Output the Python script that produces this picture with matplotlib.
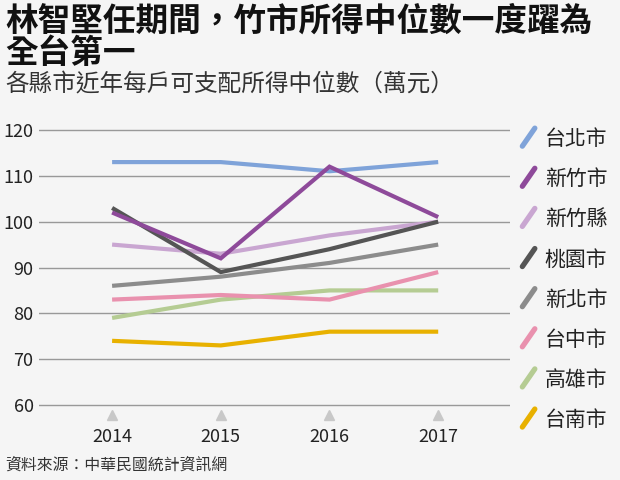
import matplotlib
matplotlib.use("Agg")
import matplotlib.pyplot as plt
from matplotlib.lines import Line2D
from matplotlib.legend_handler import HandlerBase

plt.rcParams['font.family'] = ['Noto Sans CJK TC', 'DejaVu Sans']

# data (萬元)
years = [2014, 2015, 2016, 2017]
cities = ["台北市", "新竹市", "新竹縣", "桃園市", "新北市", "台中市", "高雄市", "台南市"]
taipei = [113, 113, 111, 113]
hsinchu_city = [102, 92, 112, 101]
hsinchu_county = [95, 93, 97, 100]
taoyuan = [103, 89, 94, 100]
new_taipei = [86, 88, 91, 95]
taichung = [83, 84, 83, 89]
kaohsiung = [79, 83, 85, 85]
tainan = [74, 73, 76, 76]
series = [taipei, hsinchu_city, hsinchu_county, taoyuan,
          new_taipei, taichung, kaohsiung, tainan]
colors = ["#7fa3d9", "#8e4a9a", "#c9a6d1", "#555555",
          "#8c8c8c", "#e991ae", "#b5cc93", "#e8b100"]
yticks = [60, 70, 80, 90, 100, 110, 120]

bg = "#f5f5f5"
fig = plt.figure(figsize=(6.2, 4.8), dpi=100, facecolor=bg)
ax = fig.add_axes([0.063, 0.1276, 0.76, 0.6302], facecolor=bg)

# draw order: back to front so purple/dark lines sit on top
order = [7, 6, 5, 4, 2, 0, 3, 1]
for i in order:
    ax.plot(years, series[i], color=colors[i], lw=3, zorder=3,
            solid_capstyle="butt", solid_joinstyle="miter")

ax.set_xlim(2013.328, 2017.663)
ax.set_ylim(57, 123)
ax.set_yticks(yticks)
ax.set_xticks(years)
ax.set_xticklabels([str(y) for y in years])
ax.grid(axis="y", color="#999999", lw=1)
ax.set_axisbelow(True)
for s in ax.spines.values():
    s.set_visible(False)
ax.tick_params(axis="y", length=0, labelsize=13, pad=4, labelcolor="#222222")
ax.tick_params(axis="x", length=0, labelsize=13, pad=7, labelcolor="#222222")

# little triangles under the years
ax.plot(years, [57.9] * len(years), ls="none", marker="^", ms=7,
        color="#c8c8c8", clip_on=False, zorder=2)


class DiagHandler(HandlerBase):
    def create_artists(self, legend, orig_handle, xdescent, ydescent,
                       width, height, fontsize, trans):
        ln = Line2D([xdescent + 2, xdescent + width - 1],
                    [ydescent - 1, ydescent + height + 1],
                    color=orig_handle.get_color(), lw=3.8,
                    solid_capstyle="round", transform=trans)
        return [ln]


handles = [Line2D([], [], color=c) for c in colors]
leg = fig.legend(handles, cities, loc="upper left",
                 bbox_to_anchor=(0.838, 0.733), frameon=False,
                 handler_map={Line2D: DiagHandler()},
                 handlelength=0.8, handleheight=0.75, handletextpad=0.4,
                 labelspacing=0.87, fontsize=15, borderpad=0, borderaxespad=0)
for t in leg.get_texts():
    t.set_color("#222222")

fig.text(0.008, 0.99, "林智堅任期間，竹市所得中位數一度躍為\n全台第一",
         fontsize=23.5, fontweight="bold", va="top", ha="left",
         linespacing=0.98, color="#111111")
fig.text(0.008, 0.847, "各縣市近年每戶可支配所得中位數（萬元）",
         fontsize=17, va="top", ha="left", color="#333333")
fig.text(0.008, 0.03, "資料來源：中華民國統計資訊網",
         fontsize=11.4, va="center", ha="left", color="#333333")

fig.savefig("out.png", dpi=100, facecolor=bg)
